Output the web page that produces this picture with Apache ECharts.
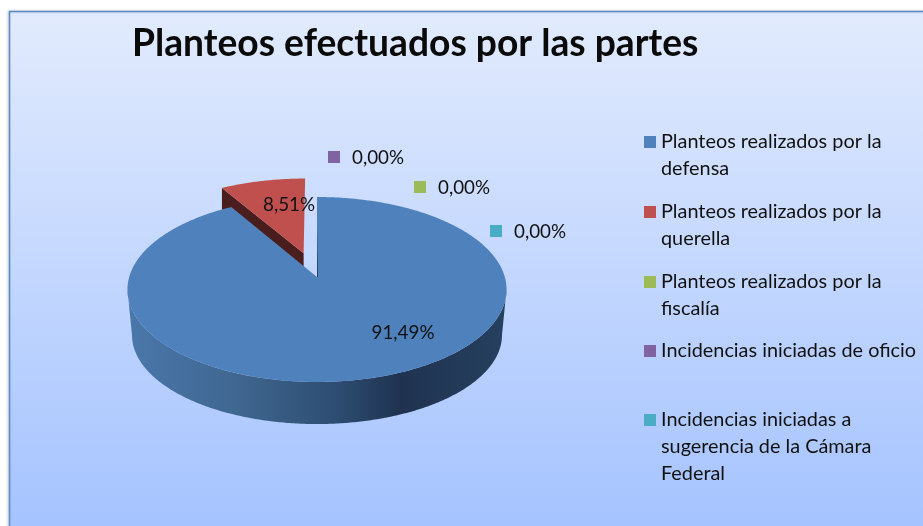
<!DOCTYPE html>
<html>
<head>
<meta charset="utf-8">
<script src="https://cdn.jsdelivr.net/npm/echarts@6/dist/echarts.min.js"></script>
<style>
html, body { margin: 0; padding: 0; background: #fff; }
#main { width: 923px; height: 526px; }
</style>
</head>
<body>
<div id="main"></div>
<script>
const titleText = 'Planteos efectuados por las partes';
const categories = [
    'Planteos realizados por la defensa',
    'Planteos realizados por la querella',
    'Planteos realizados por la fiscalía',
    'Incidencias iniciadas de oficio',
    'Incidencias iniciadas a sugerencia de la Cámara Federal'
];
const legendLines = [
    ['Planteos realizados por la', 'defensa'],
    ['Planteos realizados por la', 'querella'],
    ['Planteos realizados por la', 'fiscalía'],
    ['Incidencias iniciadas de oficio'],
    ['Incidencias iniciadas a', 'sugerencia de la Cámara', 'Federal']
];
const values = [91.49, 8.51, 0, 0, 0];
const colors = ['#4f81bd', '#c0504d', '#9bbb59', '#8064a2', '#4bacc6'];
const wallColors = ['', '#4a1e1c', '', '', ''];
const explode = [0, 0.28, 0, 0, 0];

// sitio de cada etiqueta, a mano como en el original
const labelPos = [[403, 333], [289, 205], [438, 188], [352, 158], [514, 232]];
const legendFirstLine = [142, 212, 282, 351, 420];

const FONT = 'Lato';
const LINE = 26.6;

// tapa y base del pastel: circulo visto en perspectiva
const persp = -0.135;
const topFace = { x0: 317, y0: 277, b: 187.8, a: 90.8 };
const baseFace = { x0: 317, y0: 323, b: 183.3, a: 87.4 };

const total = values.reduce((s, v) => s + v, 0);
const starts = [];
values.reduce((acc, v, i) => { starts[i] = acc; return acc + v / total * 2 * Math.PI; }, 0);

function project(face, theta, r, idx) {
    const mid = starts[idx] + values[idx] / total * Math.PI;
    const u = r * Math.sin(theta) + explode[idx] * Math.sin(mid);
    const v = -r * Math.cos(theta) - explode[idx] * Math.cos(mid);
    const d = 1 + persp * v;
    return [face.x0 + face.b * u / d, face.y0 + face.a * v / d];
}

function arc(face, from, to, idx) {
    const pts = [];
    const n = Math.max(2, Math.ceil(Math.abs(to - from) / 0.01));
    for (let i = 0; i <= n; i++) {
        pts.push(project(face, from + (to - from) * i / n, 1, idx));
    }
    return pts;
}

function percent(v) {
    return (v / total * 100).toFixed(2).replace('.', ',') + '%';
}

// cuadrito arriba y punto suelto abajo: asi la marca queda con la primera linea
function legendIcon(lines) {
    const top = (LINE - 12) / 2;
    const h = lines * LINE;
    return 'path://M0 0L0 0M0 ' + top + 'H12V' + (top + 12) + 'H0ZM0 ' + h + 'L0 ' + h;
}

const sideGradient = new echarts.graphic.LinearGradient(0, 0, 1, 0, [
    { offset: 0, color: '#4a77ab' },
    { offset: 0.3, color: '#3f668f' },
    { offset: 0.55, color: '#2e4d72' },
    { offset: 0.72, color: '#1f3350' },
    { offset: 1, color: '#26405f' }
]);

function renderSlice(params, api) {
    const i = params.seriesIndex;
    const kids = [];
    const from = starts[i];
    const to = from + values[i] / total * 2 * Math.PI;

    if (values[i] > 0) {
        const apex = project(topFace, 0, 0, i);
        const rim = arc(topFace, from, to, i);
        kids.push({
            type: 'polygon', z2: 4 - i * 3,
            shape: { points: [apex].concat(rim) },
            style: { fill: colors[i] }
        });
        if (wallColors[i]) {
            // pared del corte, la tapa azul la tapa por abajo
            const baseApex = project(baseFace, 0, 0, i);
            const baseEnd = project(baseFace, from, 1, i);
            kids.push({
                type: 'polygon', z2: 0,
                shape: { points: [rim[0], apex, [apex[0], baseApex[1]], [rim[0][0], baseEnd[1]]] },
                style: { fill: wallColors[i] }
            });
        } else {
            // borde visible del cilindro, de extremo a extremo
            const a0 = Math.max(from, Math.acos(persp));
            const a1 = Math.min(to, 2 * Math.PI - Math.acos(persp));
            const side = arc(topFace, a0, a1, i).concat(arc(baseFace, a1, a0, i));
            kids.push({
                type: 'polygon', z2: 3,
                shape: { points: side },
                style: { fill: sideGradient }
            });
            const edge = project(topFace, from, 1, i);
            kids.push({
                type: 'line', z2: 5,
                shape: { x1: edge[0] + 0.5, y1: edge[1] + 30, x2: apex[0] + 0.5, y2: apex[1] },
                style: {
                    lineWidth: 1,
                    stroke: new echarts.graphic.LinearGradient(0, 0, 0, 1, [
                        { offset: 0, color: 'rgba(31,51,80,0)' },
                        { offset: 1, color: 'rgba(31,51,80,0.9)' }
                    ])
                }
            });
        }
    } else {
        kids.push({
            type: 'rect', z2: 9,
            shape: { x: labelPos[i][0] - 24, y: labelPos[i][1] - 7, width: 12, height: 12 },
            style: { fill: colors[i] }
        });
    }

    kids.push({
        type: 'text', z2: 10,
        x: labelPos[i][0], y: labelPos[i][1],
        style: {
            text: percent(api.value(0)),
            fill: '#111',
            font: '18.8px ' + FONT,
            align: values[i] > 0 ? 'center' : 'left',
            verticalAlign: 'middle'
        }
    });
    return { type: 'group', children: kids };
}

const chart = echarts.init(document.getElementById('main'), null, { renderer: 'canvas' });

chart.setOption({
    animation: false,
    backgroundColor: '#ffffff',
    title: {
        text: titleText,
        left: 132,
        top: 26,
        padding: 0,
        textStyle: { fontFamily: FONT, fontSize: 37.2, fontWeight: 'bold', color: '#0a0a0a' }
    },
    graphic: [{
        type: 'rect',
        z: -10,
        silent: true,
        shape: { x: 9.5, y: 11.5, width: 930, height: 530 },
        style: {
            fill: new echarts.graphic.LinearGradient(0, 0, 0, 1, [
                { offset: 0, color: '#e2ebfd' },
                { offset: 1, color: '#a3c2ff' }
            ]),
            stroke: '#5b8cc9',
            lineWidth: 1.5,
            shadowBlur: 3,
            shadowColor: 'rgba(0,0,0,0.22)',
            shadowOffsetX: -1
        }
    }],
    legend: categories.map((name, i) => {
        const n = legendLines[i].length;
        return {
            left: 644,
            top: legendFirstLine[i] - LINE / 2,
            orient: 'vertical',
            padding: 0,
            itemWidth: 12,
            itemHeight: n * LINE,
            selectedMode: false,
            icon: legendIcon(n),
            formatter: () => legendLines[i].join('\n'),
            data: [name],
            textStyle: { fontFamily: FONT, fontSize: 19.85, lineHeight: LINE, color: '#111' }
        };
    }),
    series: categories.map((name, i) => ({
        type: 'custom',
        name: name,
        coordinateSystem: 'none',
        silent: true,
        itemStyle: { color: colors[i] },
        renderItem: renderSlice,
        data: [[values[i]]]
    }))
});
</script>
</body>
</html>
